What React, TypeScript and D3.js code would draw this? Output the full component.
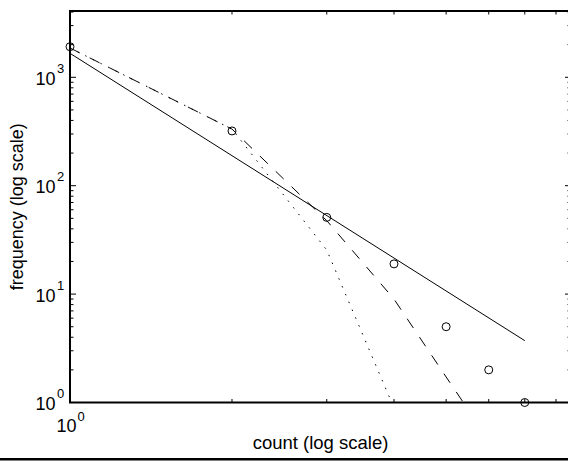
import React from "react";
import * as d3 from "d3";

// observed counts
const counts = [1, 2, 3, 4, 5, 6, 7];
const observed = [1915, 320, 51, 19, 5, 2, 1];
// power-law fit (solid)
const fitX = [1, 7];
const fitY = [1664, 3.72];
// model A (dashed)
const modelAX = [1, 2, 3, 4, 5, 6];
const modelAY = [1863, 333, 47.6, 9.0, 1.72, 0.45];
// model B (dotted)
const modelBX = [1, 2, 3, 4, 5];
const modelBY = [1863, 333, 25.5, 0.89, 0.02];

const yMajor = [1, 10, 100, 1000];
const yExp = ["0", "1", "2", "3"];
const xMajor = [1];
const xExp = ["0"];

const W = 568;
const H = 462;
const left = 70;
const right = 571;
const top = 11;
const bottom = 402.5;

const FONT = "'Liberation Sans', Arial, Helvetica, sans-serif";

export default function App() {
  const x = d3.scaleLog().domain([1, Math.pow(10, 0.931)]).range([left, right]);
  const y = d3.scaleLog().domain([1, Math.pow(10, (bottom - top) / 108.4)]).range([bottom, top]);

  const line = (xs: number[], ys: number[]) =>
    d3
      .line<number>()
      .x((_, i) => x(xs[i]))
      .y((d) => y(d))(ys) as string;

  const [x0, x1] = x.domain();
  const [y0, y1] = y.domain();
  const xMinor: number[] = [];
  for (let k = 0; k < 2; k++)
    for (let m = 2; m <= 9; m++) {
      const v = m * Math.pow(10, k);
      if (v > x0 && v < x1) xMinor.push(v);
    }
  const yMinor: number[] = [];
  for (let k = 0; k < 4; k++)
    for (let m = 2; m <= 9; m++) {
      const v = m * Math.pow(10, k);
      if (v > y0 && v < y1) yMinor.push(v);
    }

  return (
    <svg
      width={W}
      height={H}
      style={{ position: "absolute", left: 0, top: 0, background: "#fff" }}
      fontFamily={FONT}
    >
      <defs>
        <clipPath id="plotclip">
          <rect x={left} y={top} width={right - left} height={bottom - top} />
        </clipPath>
      </defs>
      <rect x={0} y={0} width={W} height={H} fill="#fff" />

      {/* ticks */}
      <g stroke="#000" strokeWidth={1}>
        {yMajor.map((v) => (
          <g key={"ym" + v}>
            <line x1={left} x2={left + 6} y1={y(v)} y2={y(v)} />
            <line x1={right} x2={right - 6} y1={y(v)} y2={y(v)} />
          </g>
        ))}
        {yMinor.map((v) => (
          <g key={"yn" + v}>
            <line x1={left} x2={left + 3.5} y1={y(v)} y2={y(v)} />
            <line x1={right} x2={right - 3.5} y1={y(v)} y2={y(v)} />
          </g>
        ))}
        {xMinor.map((v) => (
          <g key={"xn" + v}>
            <line x1={x(v)} x2={x(v)} y1={bottom} y2={bottom - 3.5} />
            <line x1={x(v)} x2={x(v)} y1={top} y2={top + 3.5} />
          </g>
        ))}
      </g>

      {/* data lines */}
      <g clipPath="url(#plotclip)" fill="none" stroke="#000" strokeWidth={1}>
        <path d={line(fitX, fitY)} />
        <path d={line(modelAX, modelAY)} strokeDasharray="11 11" />
        <path d={line(modelBX, modelBY)} strokeDasharray="1.5 7" />
      </g>

      {/* circles */}
      <g fill="none" stroke="#000" strokeWidth={1}>
        {observed.map((v, i) => (
          <circle key={i} cx={x(counts[i])} cy={y(v)} r={4} />
        ))}
      </g>

      {/* axes box */}
      <rect
        x={left}
        y={top}
        width={right - left}
        height={bottom - top}
        fill="none"
        stroke="#000"
        strokeWidth={2}
      />

      {/* y tick labels */}
      {yMajor.map((v, i) => (
        <g key={"yl" + v}>
          <text x={55.5} y={y(v) + 7.5} fontSize={18} textAnchor="end">
            10
          </text>
          <text x={57} y={y(v) - 4.5} fontSize={13}>
            {yExp[i]}
          </text>
        </g>
      ))}

      {/* x tick labels */}
      {xMajor.map((v, i) => (
        <g key={"xl" + v}>
          <text x={x(v) + 6.5} y={431.5} fontSize={18} textAnchor="end">
            10
          </text>
          <text x={x(v) + 7.5} y={421} fontSize={13}>
            {xExp[i]}
          </text>
        </g>
      ))}

      {/* axis labels */}
      <text x={(left + right) / 2} y={449} fontSize={18.5} textAnchor="middle">
        count (log scale)
      </text>
      <text
        transform={`translate(23, ${(top + bottom) / 2}) rotate(-90)`}
        fontSize={18}
        textAnchor="middle"
      >
        frequency (log scale)
      </text>

      {/* page rule at bottom */}
      <line x1={0} x2={W} y1={459.3} y2={459.3} stroke="#000" strokeWidth={2.5} />
    </svg>
  );
}
